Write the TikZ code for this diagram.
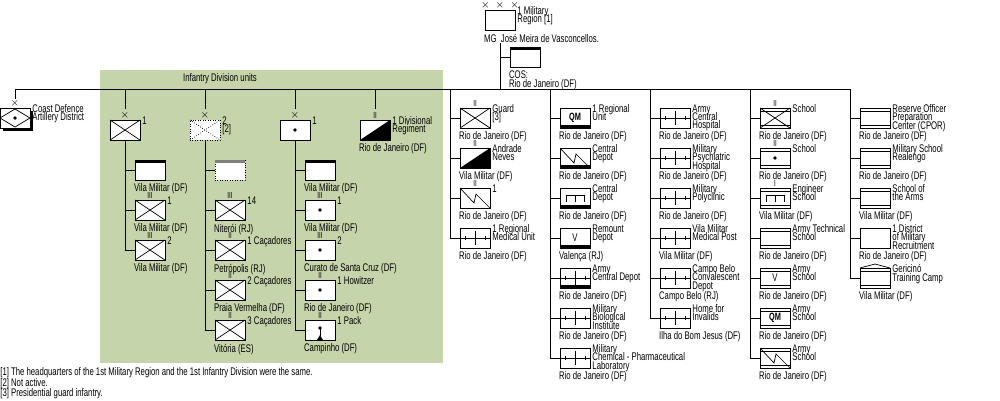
\documentclass[tikz,border=0pt]{standalone}
\usepackage{fontspec}
\setmainfont{Liberation Sans}[FakeStretch=0.7]
\usetikzlibrary{positioning}
\definecolor{infgreen}{HTML}{C6D4AB}
\newcommand\orgfont{\fontsize{6.3}{4.8}\selectfont\lineskiplimit=-10pt\relax}
\tikzset{
  unit/.style={draw,fill=white,minimum width=0.6cm,minimum height=0.4cm,inner sep=0pt},
  ech/.style={inner sep=0.3pt,font=\fontsize{5}{5}\selectfont},
  side/.style={anchor=north west,align=left,inner sep=1pt,yshift=3pt},
  under/.style={anchor=north west,align=left,inner sep=0.5pt,xshift=-1pt,yshift=-1.3pt},
}
% symbols, drawn around the box centre (pixel units, y down)
\newcommand\syInf{\draw (-15,-10) -- (15,10) (-15,10) -- (15,-10);}
\newcommand\syArt{\fill (0,0) circle (1.8);}
\newcommand\syHq{\fill (-15,-10) rectangle (15,-7);}
\newcommand\syBar{\fill (-15,10) rectangle (15,7);}
\newcommand\syMed{\draw (-15,0) -- (15,0) (0,-7) -- (0,7) (-10,-2) -- (-10,2) (10,-2) -- (10,2);}
\newcommand\syZig{\draw (-15,-10) -- (-1,5) -- (1,-4) -- (15,10);}
\newcommand\syQM{\node[font=\fontsize{6}{6}\selectfont\bfseries] (\un-qm) at (0,0) {QM};}
\newcommand\syV{\node (\un-v) at (0,0) {V};}
\newcommand\syEng{\draw (-9,4) -- (-9,-3) -- (9,-3) -- (9,4) (0,-3) -- (0,4);}
\newcommand\sySch{\draw (-15,-7) -- (15,-7) (-15,7) -- (15,7);}
\newcommand\syRoof{\draw (-15,-10) -- (0,-14) -- (15,-10);}
\newcommand\syHalf{\fill (-15,10) -- (15,-10) -- (15,10) -- cycle;}
\newcommand\syPack{\fill (0,-2) circle (1.8); \draw (0,-2) -- (0,6); \fill (-3,10) -- (0,5) -- (3,10) -- cycle;}
\newcommand\syDiam{\draw (-15,0) -- (0,-9) -- (15,0) -- (0,9) -- cycle; \fill (0,0) circle (1.8);}
% name, centre, node options, symbol, echelon, side text, text below
\newcommand\unit[7]{%
  \node[unit,#3,label={[ech]above:#5}] (#1) at (#2) {};
  \def\un{#1}
  \begin{scope}[shift={(#1.center)}] #4 \end{scope}
  \node[side] (#1-s) at (#1.north east) {#6};
  \node[under] (#1-b) at (#1.south west) {#7};}

\begin{document}
\begin{tikzpicture}[x=0.02cm,y=-0.02cm,font=\orgfont]
  \useasboundingbox (0,0) rectangle (1000,400);
  \fill[infgreen] (100,70) rectangle (443,363);
  \node (idu) at (220,79) {Infantry Division units};
  %
  \coordinate (bus-w) at (15,89);
  \coordinate (bus-e) at (850,89);
  \draw (bus-w) -- (bus-e);
  \foreach \x in {15,125,205,295,375,450,550,650,750,850}
    \coordinate (c\x) at (\x,89);
  %
  \unit{mr}{500,20}{}{}{$\times\,\times\,\times$}{1 Military\\Region [1]}{MG~ José Meira de Vasconcellos.}
  \unit{cos}{525,57}{}{\syHq}{}{}{COS:\\Rio de Janeiro (DF)}
  \draw (mr-b.south -| mr) -- (mr |- bus-e);
  \draw (mr-b.south -| mr) |- (cos.west);
  %
  \fill (3,111) rectangle (33,131);
  \unit{cd}{15,118}{}{\syDiam}{$\times$}{Coast Defence\\Artillery District}{}
  \draw (c15) -- ([yshift=5pt]cd.north);
  %
  \unit{d1}{125,130}{}{\syInf}{$\times$}{1}{}
  \unit{d2}{205,130}{densely dotted}{\draw[densely dotted] (-15,-10) -- (15,10) (-15,10) -- (15,-10);}{$\times$}{2\\{[2]}}{}
  \unit{d3}{295,130}{}{\syArt}{$\times$}{1}{}
  \unit{d4}{375,130}{}{\syHalf}{II}{1 Divisional\\Regiment}{Rio de Janeiro (DF)}
  \foreach \u/\x in {d1/125,d2/205,d3/295,d4/375}
    \draw (c\x) -- ([yshift=6pt]\u.north);
  %
  \unit{s1a}{150,170}{}{\syHq}{}{}{Vila Militar (DF)}
  \unit{s1b}{150,210}{}{\syInf}{III}{1}{Vila Militar (DF)}
  \unit{s1c}{150,250}{}{\syInf}{III}{2}{Vila Militar (DF)}
  \unit{s2a}{230,170}{densely dotted}{\fill[gray] (-15,-10) rectangle (15,-7);}{}{}{}
  \unit{s2b}{230,210}{}{\syInf}{III}{14}{Niterói (RJ)}
  \unit{s2c}{230,250}{}{\syInf}{II}{1 Caçadores}{Petrópolis (RJ)}
  \unit{s2d}{230,290}{}{\syInf}{II}{2 Caçadores}{Praia Vermelha (DF)}
  \unit{s2e}{230,330}{}{\syInf}{II}{3 Caçadores}{Vitória (ES)}
  \unit{s3a}{320,170}{}{\syHq}{}{}{Vila Militar (DF)}
  \unit{s3b}{320,210}{}{\syArt}{III}{1}{Vila Militar (DF)}
  \unit{s3c}{320,250}{}{\syArt}{III}{2}{Curato de Santa Cruz (DF)}
  \unit{s3d}{320,290}{}{\syArt}{II}{1 Howitzer}{Rio de Janeiro (DF)}
  \unit{s3e}{320,330}{}{\syPack}{II}{1 Pack}{Campinho (DF)}
  \foreach \u in {s1a,s1b,s1c} \draw (d1.south) |- (\u.west);
  \foreach \u in {s2a,s2b,s2c,s2d,s2e} \draw (d2.south) |- (\u.west);
  \foreach \u in {s3a,s3b,s3c,s3d,s3e} \draw (d3.south) |- (\u.west);
  %
  \unit{g1}{475,118}{}{\syInf}{II}{Guard\\{[3]}}{Rio de Janeiro (DF)}
  \unit{g2}{475,158}{}{\syHalf}{II}{Andrade\\Neves}{Vila Militar (DF)}
  \unit{g3}{475,198}{}{\syZig}{II}{1}{Rio de Janeiro (DF)}
  \unit{g4}{475,238}{}{\syMed}{}{1 Regional\\Medical Unit}{Rio de Janeiro (DF)}
  \foreach \u in {g1,g2,g3,g4} \draw (c450) |- (\u.west);
  %
  \unit{h1}{575,118}{}{\syQM\syBar}{}{1 Regional\\Unit}{Rio de Janeiro (DF)}
  \unit{h2}{575,158}{}{\syZig\syBar}{}{Central\\Depot}{Rio de Janeiro (DF)}
  \unit{h3}{575,198}{}{\syEng\syBar}{}{Central\\Depot}{Rio de Janeiro (DF)}
  \unit{h4}{575,238}{}{\syV\syBar}{}{Remount\\Depot}{Valença (RJ)}
  \unit{h5}{575,278}{}{\syMed\syBar}{}{Army\\Central Depot}{Rio de Janeiro (DF)}
  \unit{h6}{575,318}{}{\syMed}{}{Military\\Biological\\Institute}{Rio de Janeiro (DF)}
  \unit{h7}{575,358}{}{\syMed}{}{Military\\Chemical - Pharmaceutical\\Laboratory}{Rio de Janeiro (DF)}
  \foreach \u in {h1,h2,h3,h4,h5,h6,h7} \draw (c550) |- (\u.west);
  %
  \unit{m1}{675,118}{}{\syMed}{}{Army\\Central\\Hospital}{Rio de Janeiro (DF)}
  \unit{m2}{675,158}{}{\syMed}{}{Military\\Psychiatric\\Hospital}{Rio de Janeiro (DF)}
  \unit{m3}{675,198}{}{\syMed}{}{Military\\Polyclinic}{Rio de Janeiro (DF)}
  \unit{m4}{675,238}{}{\syMed}{}{Vila Militar\\Medical Post}{Vila Militar (DF)}
  \unit{m5}{675,278}{}{\syMed}{}{Campo Belo\\Convalescent\\Depot}{Campo Belo (RJ)}
  \unit{m6}{675,318}{}{\syMed}{}{Home for\\Invalids}{Ilha do Bom Jesus (DF)}
  \foreach \u in {m1,m2,m3,m4,m5,m6} \draw (c650) |- (\u.west);
  %
  \unit{e1}{775,118}{}{\sySch\syInf}{II}{School}{Rio de Janeiro (DF)}
  \unit{e2}{775,158}{}{\sySch\syArt}{II}{School}{Rio de Janeiro (DF)}
  \unit{e3}{775,198}{}{\sySch\syEng}{I}{Engineer\\School}{Vila Militar (DF)}
  \unit{e4}{775,238}{}{\sySch}{}{Army Technical\\School}{Rio de Janeiro (DF)}
  \unit{e5}{775,278}{}{\sySch\syV}{}{Army\\School}{Rio de Janeiro (DF)}
  \unit{e6}{775,318}{}{\sySch\syQM}{}{Army\\School}{Rio de Janeiro (DF)}
  \unit{e7}{775,358}{}{\sySch\syZig}{}{Army\\School}{Rio de Janeiro (DF)}
  \foreach \u in {e1,e2,e3,e4,e5,e6,e7} \draw (c750) |- (\u.west);
  %
  \unit{r1}{875,118}{}{\sySch}{}{Reserve Officer\\Preparation\\Center (CPOR)}{Rio de Janeiro (DF)}
  \unit{r2}{875,158}{}{\sySch}{}{Military School\\Realengo}{Rio de Janeiro (DF)}
  \unit{r3}{875,198}{}{\sySch}{}{School of\\the Arms}{Vila Militar (DF)}
  \unit{r4}{875,238}{}{}{}{1 District\\of Military\\Recruitment}{Rio de Janeiro (DF)}
  \unit{r5}{875,278}{}{\sySch\syRoof}{}{Gericinó\\Training Camp}{Vila Militar (DF)}
  \foreach \u in {r1,r2,r3,r4,r5} \draw (c850) |- (\u.west);
  %
  \node[anchor=west,inner sep=0pt] (fn1) at (0,373) {[1] The headquarters of the 1st Military Region and the 1st Infantry Division were the same.};
  \node[anchor=west,inner sep=0pt] (fn2) at (0,384) {[2] Not active.};
  \node[anchor=west,inner sep=0pt] (fn3) at (0,394) {[3] Presidential guard infantry.};
\end{tikzpicture}
\end{document}
